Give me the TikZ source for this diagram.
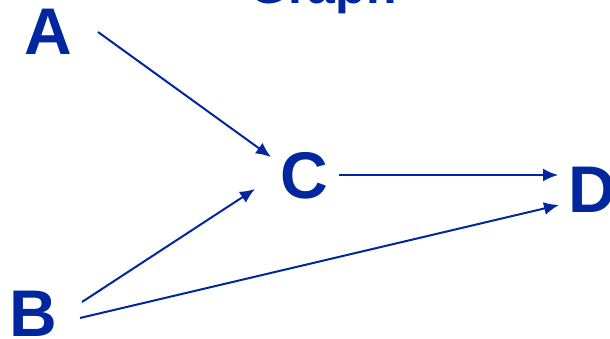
\documentclass[tikz,border=0pt]{standalone}
\usepackage{fontspec}
\setmainfont{Liberation Sans}
\usetikzlibrary{arrows.meta}
\definecolor{gblue}{RGB}{0,38,160}
\tikzset{
  lbl/.style={text=gblue, font=\bfseries\fontsize{66}{66}\selectfont, inner sep=0pt, anchor=base},
  ttl/.style={text=gblue, font=\bfseries\fontsize{50}{50}\selectfont, inner sep=0pt, anchor=base},
  arr/.style={draw=gblue, line width=2pt, -{Latex[length=15pt,width=13pt]}}
}
\begin{document}
\begin{tikzpicture}[x=1pt,y=1pt]
\useasboundingbox (0,0) rectangle (610,339);
\node[ttl] (T) at (323,335) {Graph};
\node[lbl] (A) at (48,284) {A};
\node[lbl] (B) at (33,2) {B};
\node[lbl] (C) at (304,140) {C};
\node[lbl] (D) at (592,126) {D};
\draw[arr] ([shift={(50,23)}]A.base) -- ([shift={(-33,42)}]C.base);
\draw[arr] ([shift={(35,24)}]C.base) -- ([shift={(-34,38)}]D.base);
\draw[arr] ([shift={(49,35)}]B.base) -- ([shift={(-49,10)}]C.base);
\draw[arr] ([shift={(47,19)}]B.base) -- ([shift={(-33,8)}]D.base);
\end{tikzpicture}
\end{document}
